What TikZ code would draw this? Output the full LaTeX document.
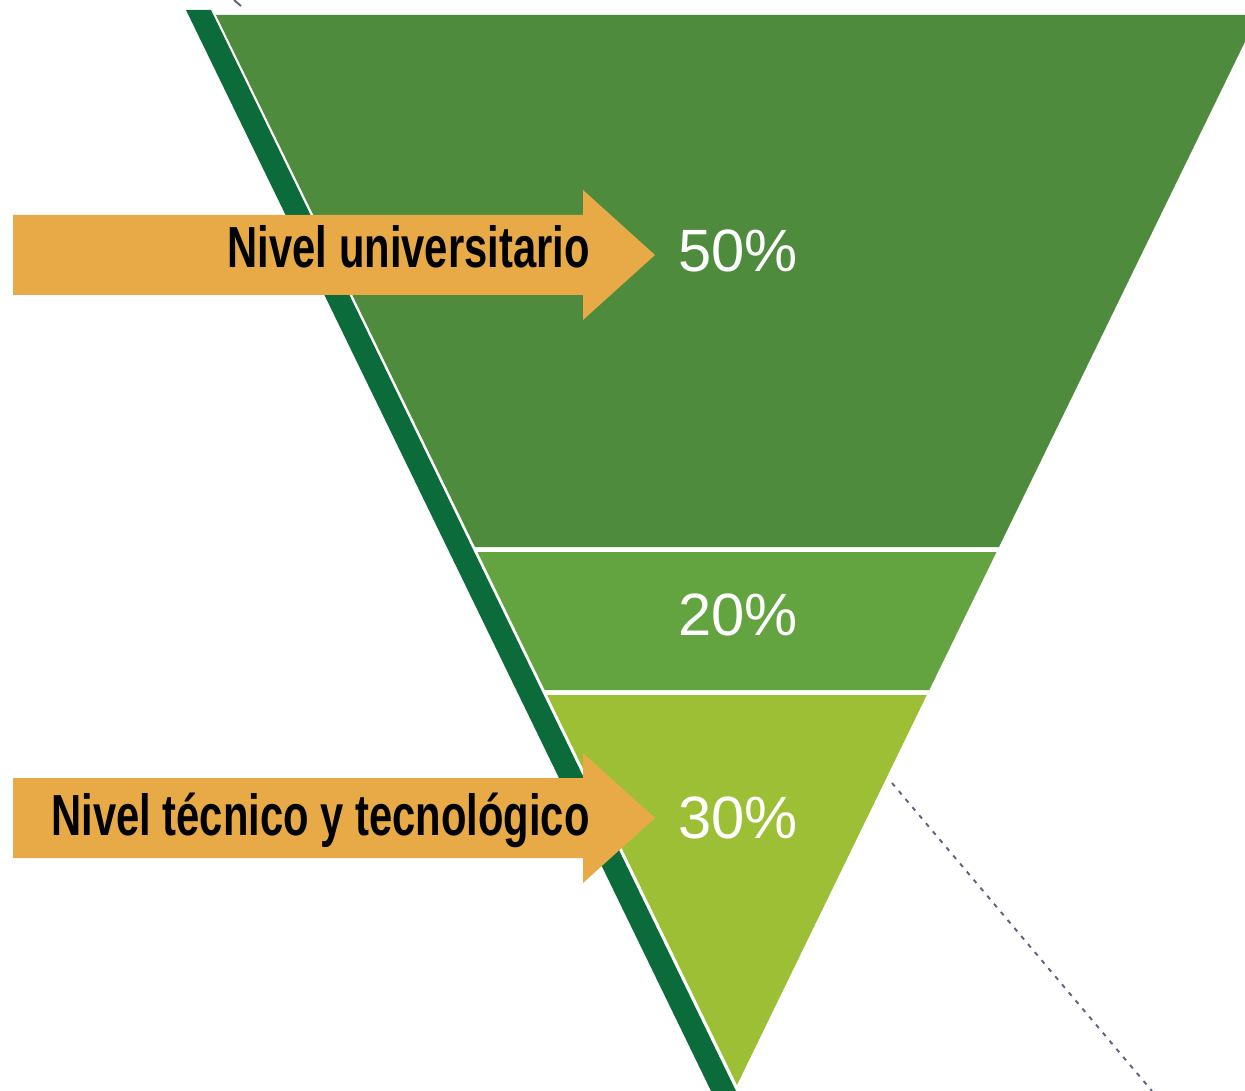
\documentclass[tikz,border=0pt]{standalone}
\usepackage{fontspec}
\setmainfont{Liberation Sans}
\newfontfamily\narrowfont[FakeStretch=0.72]{Liberation Sans}
\definecolor{darkstrip}{HTML}{0B6B3A}
\definecolor{bandtop}{HTML}{4F8B3D}
\definecolor{bandmid}{HTML}{63A440}
\definecolor{bandlow}{HTML}{9DBF36}
\definecolor{arroworange}{HTML}{E8AA47}
\definecolor{dashgray}{HTML}{5E6380}
\tikzset{
  pct/.style={text=white,inner sep=0pt,font=\fontsize{34}{34}\selectfont},
  lbl/.style={text=black,inner sep=0pt,anchor=base east,font=\narrowfont\bfseries\fontsize{33}{33}\selectfont},
  arrowbox/.style={fill=arroworange}
}
\begin{document}
\begin{tikzpicture}[x=0.02cm,y=-0.02cm]
        \useasboundingbox (0,0) rectangle (1245,1091);
        \clip (0,0) rectangle (1245,1091);
        % dark strip along the left side
        \coordinate (S1) at (186,10);
        \coordinate (S2) at (211,10);
        \coordinate (S3) at (736,1091);
        \coordinate (S4) at (711,1091);
        \fill[darkstrip] (S1)--(S2)--(S3)--(S4)--cycle;
        % the three bands
        \coordinate (T1) at (216,15);
        \coordinate (T2) at (1258,15);
        \coordinate (T3) at (999,547);
        \coordinate (T4) at (475,547);
        \coordinate (M1) at (477.5,552);
        \coordinate (M2) at (996.5,552);
        \coordinate (M3) at (929.3,690);
        \coordinate (M4) at (544.7,690);
        \coordinate (L1) at (547.2,695);
        \coordinate (L2) at (926.8,695);
        \coordinate (A) at (737,1085);
        \fill[bandtop] (T1)--(T2)--(T3)--(T4)--cycle;
        \fill[bandmid] (M1)--(M2)--(M3)--(M4)--cycle;
        \fill[bandlow] (L1)--(L2)--(A)--cycle;
        \node[pct] (p50) at (738,251) {50\%};
        \node[pct] (p20) at (738,615) {20\%};
        \node[pct] (p30) at (738,818) {30\%};
        % arrows
        \coordinate (U1) at (13,215);
        \coordinate (U2) at (583,215);
        \coordinate (U3) at (583,190);
        \coordinate (U4) at (655,255);
        \coordinate (U5) at (583,320);
        \coordinate (U6) at (583,295);
        \coordinate (U7) at (13,295);
        \fill[arrowbox] (U1)--(U2)--(U3)--(U4)--(U5)--(U6)--(U7)--cycle;
        \coordinate (V1) at (13,778);
        \coordinate (V2) at (583,778);
        \coordinate (V3) at (583,753);
        \coordinate (V4) at (655,818);
        \coordinate (V5) at (583,883);
        \coordinate (V6) at (583,858);
        \coordinate (V7) at (13,858);
        \fill[arrowbox] (V1)--(V2)--(V3)--(V4)--(V5)--(V6)--(V7)--cycle;
        \node[lbl] (univ) at (590,268) {Nivel universitario};
        \node[lbl] (tec) at (590,835) {Nivel técnico y tecnológico};
        % dashed guides
        \coordinate (D1) at (892,783);
        \coordinate (D2) at (1152,1091);
        \draw[dashgray,line width=1.1pt,dash pattern=on 2.5pt off 3.5pt] (D1)--(D2);
        \coordinate (E1) at (234,0);
        \coordinate (E2) at (241,6);
        \draw[dashgray,line width=1.1pt] (E1)--(E2);
    \end{tikzpicture}
\end{document}
